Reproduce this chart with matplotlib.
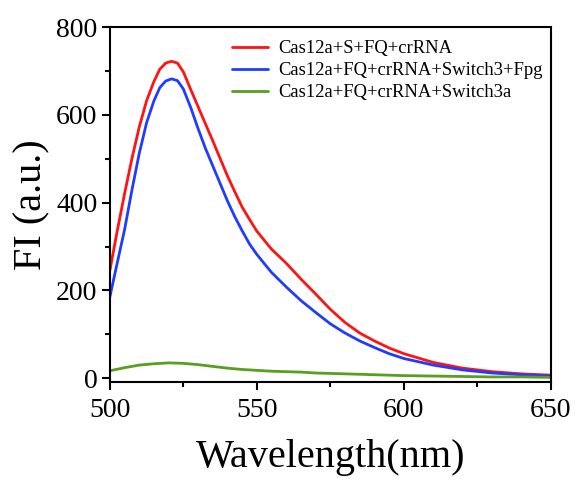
import matplotlib
matplotlib.use("Agg")
import matplotlib.pyplot as plt
from matplotlib.ticker import MultipleLocator

plt.rcParams["font.family"] = ["Liberation Serif", "DejaVu Serif"]

# Espectros (longitud de onda en nm)
wl_red = [500, 502.5, 505, 507.5, 510, 512.5, 515, 517, 519, 521, 523, 525, 527.5,
          530, 532.5, 535, 537.5, 540, 542.5, 545, 547.5, 550, 555, 560, 565, 570,
          575, 580, 585, 590, 595, 600, 610, 620, 630, 640, 650]
fi_red = [245, 335, 420, 500, 572, 632, 676, 704, 718, 722, 718, 698, 658,
          619, 580, 541, 501, 461, 425, 390, 362, 335, 294, 262, 226, 192,
          157, 127, 103, 85, 69, 56, 36, 23, 15, 10, 7]

wl_blue = [500, 502.5, 505, 507.5, 510, 512.5, 515, 517, 519, 521, 523, 525, 527.5,
           530, 532.5, 535, 537.5, 540, 542.5, 545, 547.5, 550, 555, 560, 565, 570,
           575, 580, 585, 590, 595, 600, 610, 620, 630, 640, 650]
fi_blue = [185, 262, 338, 428, 512, 582, 632, 662, 677, 682, 678, 659, 617,
           569, 524, 484, 444, 404, 368, 336, 306, 282, 241, 208, 177, 150,
           124, 103, 85, 70, 56, 45, 30, 19, 12, 8, 5]

wl_green = [500, 505, 510, 515, 520, 525, 530, 535, 540, 545, 550, 555, 560, 565,
            570, 575, 580, 590, 600, 610, 620, 630, 640, 650]
fi_green = [17, 24, 30, 33, 35, 34, 31, 27, 23, 20, 18, 16, 15, 14,
            12, 11, 10, 8, 6, 5, 4, 3, 3, 2]

labels = ["Cas12a+S+FQ+crRNA", "Cas12a+FQ+crRNA+Switch3+Fpg", "Cas12a+FQ+crRNA+Switch3a"]

fig = plt.figure(figsize=(5.75, 4.79), dpi=100)
ax = fig.add_axes([0.191, 0.203, 0.767, 0.7405])

line_kw = dict(lw=2.0, solid_joinstyle="round", solid_capstyle="round")
ax.plot(wl_red, fi_red, color="#ff1414", label=labels[0], **line_kw)
ax.plot(wl_blue, fi_blue, color="#1f3cff", label=labels[1], **line_kw)
ax.plot(wl_green, fi_green, color="#5a9e1e", label=labels[2], **line_kw)

ax.set_xlim(500, 650)
ax.set_ylim(-8, 800)
ax.xaxis.set_major_locator(MultipleLocator(50))
ax.xaxis.set_minor_locator(MultipleLocator(25))
ax.yaxis.set_major_locator(MultipleLocator(200))
ax.yaxis.set_minor_locator(MultipleLocator(100))
ax.tick_params(which="both", direction="out", width=1.5, top=False, right=False,
               labelsize=20)
ax.tick_params(axis="x", pad=6)
ax.tick_params(axis="y", pad=3)
ax.tick_params(which="major", length=6)
ax.tick_params(which="minor", length=3.5)
for s in ax.spines.values():
    s.set_linewidth(1.5)

ax.set_xlabel("Wavelength(nm)", fontsize=29, labelpad=11)
ax.set_ylabel("FI (a.u.)", fontsize=29, labelpad=4)

ax.legend(loc="upper left", bbox_to_anchor=(0.277, 0.963), frameon=False, fontsize=13.4,
          handlelength=1.95, handletextpad=0.55, labelspacing=0.27,
          borderaxespad=0, borderpad=0)

fig.savefig("out.png", dpi=100)
